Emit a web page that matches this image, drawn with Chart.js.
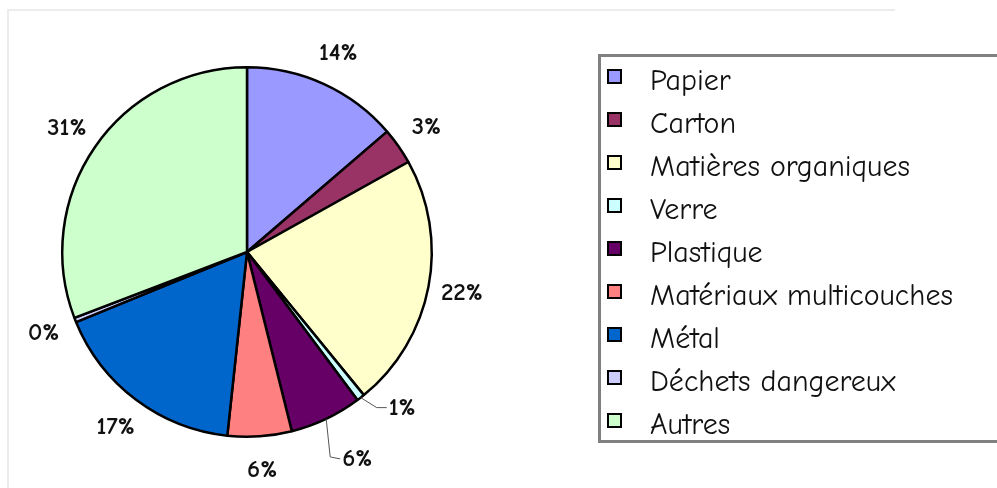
<!DOCTYPE html>
<html>
<head>
<meta charset="utf-8">
<script src="https://cdn.jsdelivr.net/npm/chart.js@4.4.1/dist/chart.umd.min.js"></script>
<style>
  html, body { margin: 0; padding: 0; background: #fff; }
  #wrap { position: relative; width: 997px; height: 488px; overflow: hidden; font-family: "Comic Sans MS", "Comic Neue", "Open Sans", sans-serif; }
  #frame { position: absolute; left: 7px; top: 9px; width: 886px; height: 490px; border-top: 2px solid #ececec; border-left: 2px solid #ececec; }
  #pie { position: absolute; left: 0; top: 0; }
  #legend { position: absolute; left: 598px; top: 54px; width: 440px; height: 389px; box-sizing: border-box; border: 3px solid #808080; }
  .row { position: absolute; left: 0; height: 43px; width: 100%; }
  .swatch { position: absolute; left: 6px; top: 14px; width: 15px; height: 15px; box-sizing: border-box; border: 2px solid #000; }
  .txt { position: absolute; left: 49px; top: 4px; line-height: 43px; font-size: 30px; color: #111; white-space: nowrap; }
</style>
</head>
<body>
<div id="wrap">
  <div id="frame"></div>
  <canvas id="pie" width="997" height="488"></canvas>
  <div id="legend"></div>
</div>
<script>
// categories and values (percent of total)
const categories = ['Papier', 'Carton', 'Matières organiques', 'Verre', 'Plastique',
  'Matériaux multicouches', 'Métal', 'Déchets dangereux', 'Autres'];
const values = [13.7, 3.2, 22.2, 0.7, 6.3, 5.6, 17.1, 0.4, 30.8];
const colors = ['#9999ff', '#993366', '#ffffcc', '#ccffff', '#660066',
  '#ff8080', '#0066cc', '#ccccff', '#ccffcc'];

const total = values.reduce((a, b) => a + b, 0);

// percentage labels around the pie, with leader lines for the thin slices
const pctLabels = {
  id: 'pctLabels',
  afterDatasetsDraw(chart, args, opts) {
    const { ctx } = chart;
    const meta = chart.getDatasetMeta(0);
    ctx.save();
    ctx.font = opts.font;
    ctx.fillStyle = '#111';
    ctx.textBaseline = 'middle';
    meta.data.forEach((arc, i) => {
      const { x, y, startAngle, endAngle, outerRadius } =
        arc.getProps(['x', 'y', 'startAngle', 'endAngle', 'outerRadius'], true);
      const mid = (startAngle + endAngle) / 2;
      const text = Math.round(values[i] / total * 100) + '%';
      const leader = opts.leaders[i];
      if (leader) {
        let px = x + Math.cos(mid) * outerRadius;
        let py = y + Math.sin(mid) * outerRadius;
        ctx.beginPath();
        ctx.strokeStyle = '#555';
        ctx.lineWidth = 1;
        ctx.moveTo(px, py);
        leader.forEach(([dx, dy]) => { px += dx; py += dy; ctx.lineTo(px, py); });
        ctx.stroke();
        ctx.textAlign = 'left';
        ctx.fillText(text, px + 2, py);
      } else {
        const r = outerRadius + opts.offset;
        ctx.textAlign = 'center';
        ctx.fillText(text, x + Math.cos(mid) * r, y + Math.sin(mid) * r);
      }
    });
    ctx.restore();
  }
};

new Chart(document.getElementById('pie'), {
  type: 'pie',
  data: {
    labels: categories,
    datasets: [{
      data: values,
      backgroundColor: colors,
      borderColor: '#000',
      borderWidth: 2.5
    }]
  },
  options: {
    responsive: false,
    animation: false,
    layout: { padding: { left: 61, right: 564, top: 66, bottom: 50 } },
    plugins: {
      legend: { display: false },
      tooltip: { enabled: false },
      pctLabels: {
        font: 'bold 25px "Comic Sans MS", "Comic Neue", "Open Sans", sans-serif',
        offset: 34,
        leaders: {
          3: [[16, 10], [10, 0]],
          4: [[4, 38], [10, 2]]
        }
      }
    }
  },
  plugins: [pctLabels]
});

// legend box built from the same arrays
const legend = document.getElementById('legend');
categories.forEach((name, i) => {
  const row = document.createElement('div');
  row.className = 'row';
  row.style.top = (-2 + i * 43) + 'px';
  const sw = document.createElement('div');
  sw.className = 'swatch';
  sw.style.background = colors[i];
  const t = document.createElement('div');
  t.className = 'txt';
  t.textContent = name;
  row.appendChild(sw);
  row.appendChild(t);
  legend.appendChild(row);
});
</script>
</body>
</html>
